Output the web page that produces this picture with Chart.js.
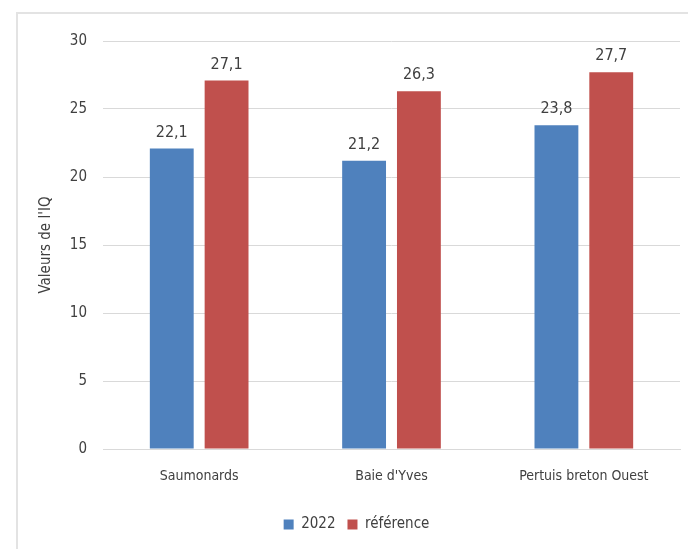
<!DOCTYPE html>
<html>
<head>
<meta charset="utf-8">
<script src="https://cdn.jsdelivr.net/npm/chart.js@4"></script>
<style>
  body { margin: 0; background: #fff; }
  #cadre { position: absolute; left: 16px; top: 12px; width: 700px; height: 600px; border: 2px solid #e3e3e3; }
  #graph { position: absolute; left: 0; top: 0; }
</style>
</head>
<body>
<div id="cadre"></div>
<canvas id="graph" width="688" height="549"></canvas>
<script>
// donnees
const sites = ['Saumonards', "Baie d'Yves", 'Pertuis breton Ouest'];
const valeurs2022 = [22.1, 21.2, 23.8];
const valeursRef = [27.1, 26.3, 27.7];
const ticksY = [0, 5, 10, 15, 20, 25, 30];

const police = "'Liberation Sans Narrow', 'DejaVu Sans Condensed', sans-serif";

// etiquettes au dessus des barres
const etiquettes = {
  id: 'etiquettes',
  afterDatasetsDraw(chart) {
    const ctx = chart.ctx;
    ctx.save();
    ctx.fillStyle = '#404040';
    ctx.font = '16px ' + police;
    ctx.textAlign = 'center';
    ctx.textBaseline = 'bottom';
    chart.data.datasets.forEach((ds, i) => {
      chart.getDatasetMeta(i).data.forEach((bar, j) => {
        ctx.fillText(ds.data[j].toFixed(1).replace('.', ','), bar.x, bar.y - 8);
      });
    });
    ctx.restore();
  }
};

const ctx = document.getElementById('graph').getContext('2d');
new Chart(ctx, {
  type: 'bar',
  data: {
    labels: sites,
    datasets: [
      { label: '2022', data: valeurs2022, backgroundColor: '#4f81bd' },
      { label: 'référence', data: valeursRef, backgroundColor: '#c0504d' }
    ]
  },
  plugins: [etiquettes],
  options: {
    responsive: false,
    animation: false,
    layout: { padding: { left: 33, right: 8, top: 41, bottom: 7 } },
    plugins: {
      tooltip: { enabled: false },
      legend: {
        position: 'bottom',
        labels: {
          boxWidth: 10, boxHeight: 10, padding: 12,
          color: '#404040',
          font: { family: police, size: 15 }
        }
      }
    },
    datasets: { bar: { categoryPercentage: 0.57, barPercentage: 0.8 } },
    scales: {
      x: {
        grid: { display: false },
        border: { color: '#d9d9d9' },
        ticks: { color: '#404040', padding: 11, font: { family: police, size: 14 } },
        afterFit(s) { s.height = 56; }
      },
      y: {
        min: 0, max: 30,
        afterBuildTicks(s) { s.ticks = ticksY.map(v => ({ value: v })); },
        grid: { color: '#d9d9d9', drawTicks: false },
        border: { display: false },
        ticks: { color: '#404040', padding: 16, font: { family: police, size: 15 } },
        title: {
          display: true, text: "Valeurs de l'IQ", color: '#404040',
          font: { family: police, size: 15 }
        },
        afterFit(s) { s.width = 70; }
      }
    }
  }
});
</script>
</body>
</html>
